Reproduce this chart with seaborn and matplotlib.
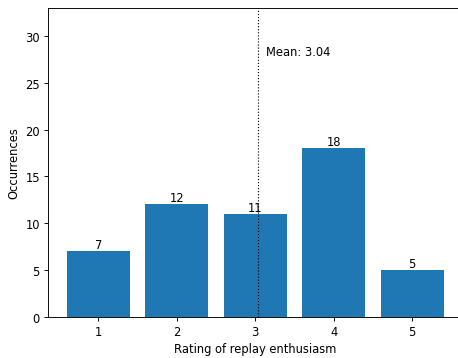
import matplotlib
matplotlib.use("Agg")
import matplotlib.pyplot as plt
import seaborn as sns
import pandas as pd

ratings = [1, 2, 3, 4, 5]
counts = [7, 12, 11, 18, 5]
mean_rating = 3.04

df = pd.DataFrame({"rating": ratings, "count": counts})

DPI = 83
fig = plt.figure(figsize=(458 / DPI, 359 / DPI), dpi=DPI)
ax = fig.add_axes([48 / 458, 41.3 / 359, 414.5 / 458, 308.7 / 359])

sns.barplot(data=df, x="rating", y="count", native_scale=True, color="#1f77b4",
            saturation=1, width=0.8, edgecolor="none", linewidth=0, ax=ax,
            errorbar=None)
for c in ax.containers:
    ax.bar_label(c)

ax.axvline(mean_rating, color="black", linestyle=":", linewidth=1)
ax.text(mean_rating + 0.1, 28, f"Mean: {mean_rating:.2f}")

ax.set_xlim(0.36, 5.64)
ax.set_ylim(0, 33)
ax.set_xticks(ratings)
ax.set_xticklabels([str(r) for r in ratings])
ax.set_xlabel("Rating of replay enthusiasm")
ax.set_ylabel("Occurrences")

fig.savefig("out.png", dpi=DPI)
